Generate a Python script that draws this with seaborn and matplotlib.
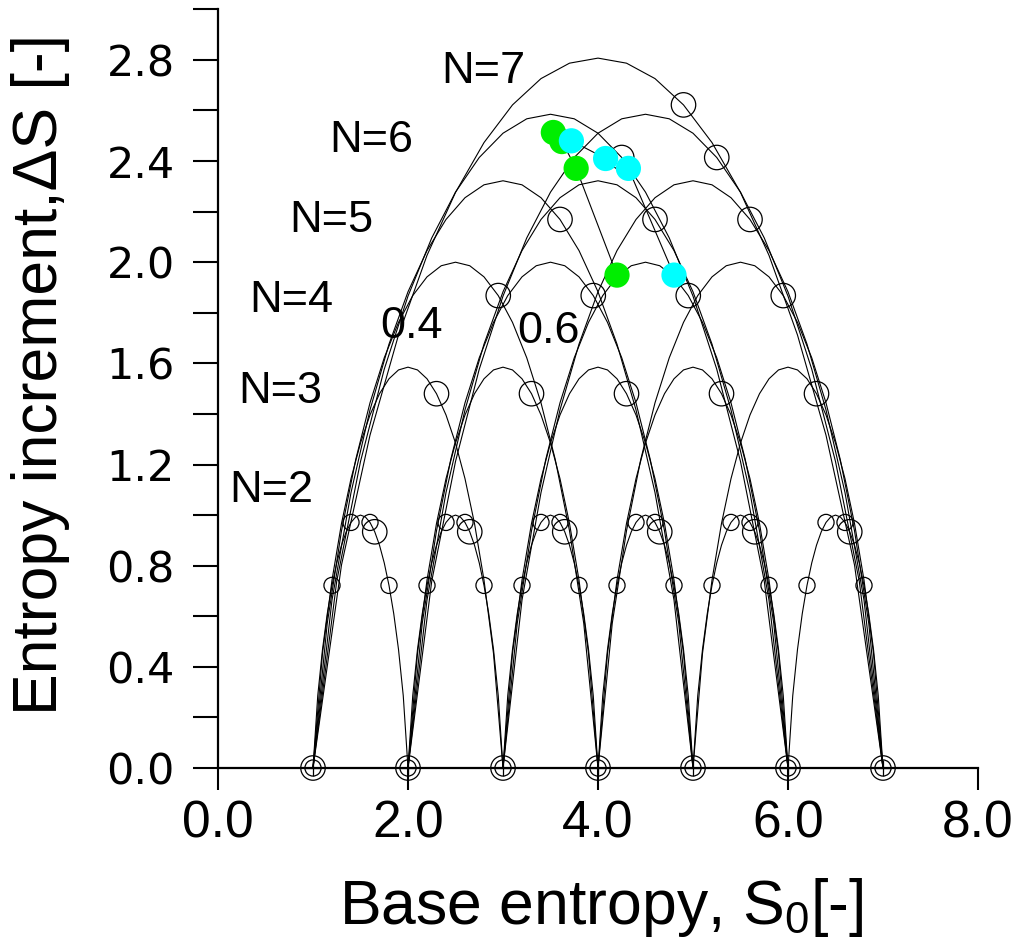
import numpy as np
import pandas as pd
import matplotlib
matplotlib.use("Agg")
import matplotlib.pyplot as plt
import seaborn as sns

# ---------------- data ----------------
# fraction along each arc (vertices of the drawn polylines)
t_grid = [0.00, 0.05, 0.10, 0.15, 0.20, 0.25, 0.30, 0.35, 0.40, 0.45, 0.50,
          0.55, 0.60, 0.65, 0.70, 0.75, 0.80, 0.85, 0.90, 0.95, 1.00]

# entropy-increment profile of one arc for each N
profile_n2 = [0.000, 0.286, 0.469, 0.610, 0.722, 0.811, 0.881, 0.934, 0.971, 0.993, 1.000,
              0.993, 0.971, 0.934, 0.881, 0.811, 0.722, 0.610, 0.469, 0.286, 0.000]
profile_n3 = [0.000, 0.453, 0.743, 0.967, 1.144, 1.285, 1.396, 1.480, 1.539, 1.574, 1.585,
              1.574, 1.539, 1.480, 1.396, 1.285, 1.144, 0.967, 0.743, 0.453, 0.000]
profile_n4 = [0.000, 0.572, 0.938, 1.220, 1.444, 1.622, 1.762, 1.868, 1.942, 1.986, 2.000,
              1.986, 1.942, 1.868, 1.762, 1.622, 1.444, 1.220, 0.938, 0.572, 0.000]
profile_n5 = [0.000, 0.664, 1.089, 1.416, 1.676, 1.883, 2.046, 2.169, 2.255, 2.306, 2.322,
              2.306, 2.255, 2.169, 2.046, 1.883, 1.676, 1.416, 1.089, 0.664, 0.000]
profile_n6 = [0.000, 0.739, 1.212, 1.577, 1.866, 2.096, 2.277, 2.414, 2.510, 2.567, 2.585,
              2.567, 2.510, 2.414, 2.277, 2.096, 1.866, 1.577, 1.212, 0.739, 0.000]
profile_n7 = [0.000, 0.803, 1.316, 1.712, 2.027, 2.276, 2.473, 2.622, 2.726, 2.787, 2.807,
              2.787, 2.726, 2.622, 2.473, 2.276, 2.027, 1.712, 1.316, 0.803, 0.000]

n_values = [2, 3, 4, 5, 6, 7]
profiles = [profile_n2, profile_n3, profile_n4, profile_n5, profile_n6, profile_n7]
# base entropy where each arc of a given N starts
arc_starts = [[1, 2, 3, 4, 5, 6], [1, 2, 3, 4, 5], [1, 2, 3, 4], [1, 2, 3], [1, 2], [1]]

# small open circles on the N=2 arcs
small_t = [0.2, 0.4, 0.6, 0.8]
small_y = [0.722, 0.971, 0.971, 0.722]
# large open circle at 0.65 of every arc
large_t = 0.65
large_y = [0.934, 1.480, 1.868, 2.169, 2.414, 2.622]
# arc end points on the axis
end_x = [1, 2, 3, 4, 5, 6, 7]
end_y = [0, 0, 0, 0, 0, 0, 0]

# coloured points
green_x = [3.53, 3.62, 3.77, 4.20]
green_y = [2.513, 2.477, 2.371, 1.949]
cyan_x = [3.72, 4.08, 4.32, 4.80]
cyan_y = [2.480, 2.410, 2.371, 1.949]

labels_text = ["N=7", "N=6", "N=5", "N=4", "N=3", "N=2", "0.4", "0.6"]
labels_x = [2.79, 1.61, 1.19, 0.77, 0.66, 0.56, 2.04, 3.48]
labels_y = [2.71, 2.436, 2.12, 1.805, 1.445, 1.053, 1.70, 1.682]

x_ticks = [0.0, 2.0, 4.0, 6.0, 8.0]
y_ticks = [0.0, 0.4, 0.8, 1.2, 1.6, 2.0, 2.4, 2.8]
y_minor = [0.2, 0.6, 1.0, 1.4, 1.8, 2.2, 2.6, 3.0]

# ---------------- build tables ----------------
rows = []
arc_id = 0
for n, prof, starts in zip(n_values, profiles, arc_starts):
    for s in starts:
        for t, v in zip(t_grid, prof):
            rows.append({"arc": arc_id, "x": s + (n - 1) * t, "y": v})
        arc_id += 1
arcs = pd.DataFrame(rows)

small_pts = pd.DataFrame([{"x": s + t, "y": v}
                          for s in arc_starts[0] for t, v in zip(small_t, small_y)])
large_pts = pd.DataFrame([{"x": s + (n - 1) * large_t, "y": v}
                          for n, v, starts in zip(n_values, large_y, arc_starts) for s in starts])
ends = pd.DataFrame({"x": end_x, "y": end_y})
green = pd.DataFrame({"x": green_x, "y": green_y})
cyan = pd.DataFrame({"x": cyan_x, "y": cyan_y})

# ---------------- plot ----------------
sns.set_style("ticks")
plt.rcParams["font.family"] = ["Liberation Sans", "DejaVu Sans"]
plt.rcParams["mathtext.fontset"] = "custom"
plt.rcParams["mathtext.rm"] = "Liberation Sans"
plt.rcParams["mathtext.default"] = "regular"
for key in ("text.color", "axes.labelcolor", "xtick.color", "ytick.color", "axes.edgecolor"):
    plt.rcParams[key] = "black"

fig = plt.figure(figsize=(10.19, 9.44), dpi=100)
ax = fig.add_axes([218 / 1019, (944 - 768) / 944, 760 / 1019, 758.7 / 944])

sns.lineplot(data=arcs, x="x", y="y", units="arc", estimator=None, sort=False,
             color="black", linewidth=0.8, ax=ax, legend=False, zorder=2)
sns.lineplot(data=green, x="x", y="y", estimator=None, sort=False,
             color="black", linewidth=0.8, ax=ax, legend=False, zorder=2)
sns.lineplot(data=cyan, x="x", y="y", estimator=None, sort=False,
             color="black", linewidth=0.8, ax=ax, legend=False, zorder=2)

sns.scatterplot(data=small_pts, x="x", y="y", marker="o", s=135, facecolors="none",
                edgecolor="black", linewidth=0.9, ax=ax, legend=False, zorder=3)
sns.scatterplot(data=ends, x="x", y="y", marker="o", s=135, facecolors="none",
                edgecolor="black", linewidth=0.9, ax=ax, legend=False, zorder=3, clip_on=False)
sns.scatterplot(data=ends, x="x", y="y", marker="+", s=135, color="black",
                linewidth=0.9, ax=ax, legend=False, zorder=3, clip_on=False)
sns.scatterplot(data=ends, x="x", y="y", marker="o", s=310, facecolors="none",
                edgecolor="black", linewidth=0.9, ax=ax, legend=False, zorder=3, clip_on=False)
sns.scatterplot(data=large_pts, x="x", y="y", marker="o", s=310, facecolors="none",
                edgecolor="black", linewidth=0.9, ax=ax, legend=False, zorder=3)

sns.scatterplot(data=green, x="x", y="y", marker="o", s=330, color="#00ee00",
                edgecolor="none", ax=ax, legend=False, zorder=4)
sns.scatterplot(data=cyan, x="x", y="y", marker="o", s=330, color="#00ffff",
                edgecolor="none", ax=ax, legend=False, zorder=5)

for txt, lx, ly in zip(labels_text, labels_x, labels_y):
    ax.text(lx, ly, txt, ha="center", va="baseline", fontsize=32.5,
            family="Liberation Sans", color="black")

ax.set_xlim(0, 8)
ax.set_ylim(0, 3.0)
sns.despine(ax=ax)
for sp in ("left", "bottom"):
    ax.spines[sp].set_linewidth(1.6)
    ax.spines[sp].set_color("black")

ax.set_xticks(x_ticks)
ax.set_xticklabels([f"{v:.1f}" for v in x_ticks])
ax.set_yticks(y_ticks)
ax.set_yticklabels([f"{v:.1f}" for v in y_ticks])
ax.set_yticks(y_minor, minor=True)
ax.tick_params(axis="x", which="major", direction="out", length=16, width=1.5,
               pad=7, labelsize=37, colors="black")
ax.tick_params(axis="y", which="both", direction="out", length=18, width=1.5,
               pad=13, labelsize=31, colors="black")
for tl in ax.get_yticklabels():
    tl.set_fontfamily("DejaVu Sans")

ax.set_xlabel("Base entropy, S$_0$[-]", fontsize=45, color="black")
ax.set_ylabel("Entropy increment,\u0394S [-]", fontsize=45, color="black")
ax.xaxis.set_label_coords(0.504, -0.142)
ax.yaxis.set_label_coords(-0.195, 0.518)

fig.savefig("out.png", dpi=100)
